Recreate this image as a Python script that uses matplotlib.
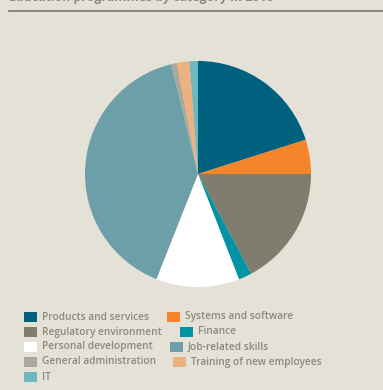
import matplotlib.pyplot as plt
from matplotlib.patches import Rectangle

# Education programmes, share by category (%)
categories = ["Products and services", "Systems and software",
              "Regulatory environment", "Finance",
              "Personal development", "Job-related skills",
              "General administration", "Training of new employees",
              "IT"]
shares = [20.1, 4.9, 17.2, 1.9, 11.9, 40.2, 0.8, 1.8, 1.2]
colors = ["#00617f", "#f5842a", "#7e7d6e", "#0094a6", "#ffffff",
          "#6d9fa9", "#a9a99b", "#edb07f", "#6db8c0"]
title = "Education programmes by category in 2010"

W, H = 383, 390
bg = "#e4e1d6"
txt = "#8a897e"

fig = plt.figure(figsize=(W / 100, H / 100), dpi=100)
fig.patch.set_facecolor(bg)

# title (mostly above the top edge) and rule
fig.text(9 / W, 1 - 0.5 / H, title, fontsize=8.9, fontweight="bold",
         color=txt, family="Open Sans", va="baseline", ha="left")
fig.add_artist(plt.Line2D([9 / W, 1], [1 - 10.5 / H, 1 - 10.5 / H],
                          color="#7e7d6e", lw=1.3))

# pie
cx, cy, r = 198, 174, 113
ax = fig.add_axes([(cx - r) / W, (H - cy - r) / H, 2 * r / W, 2 * r / H])
ax.pie(shares, colors=colors, startangle=90, counterclock=False,
       wedgeprops=dict(linewidth=0))
ax.set_xlim(-1, 1)
ax.set_ylim(-1, 1)
ax.set_aspect("equal")
ax.axis("off")

# legend, row by row; second entry of each row follows the first
right_x = [167, 180, 170, 173]
y0, dy = 317, 15
for i, (name, c) in enumerate(zip(categories, colors)):
    row, col = divmod(i, 2)
    x = 24 if col == 0 else right_x[row]
    y = y0 + row * dy
    fig.add_artist(Rectangle((x / W, 1 - (y + 5) / H), 13 / W, 10 / H,
                             transform=fig.transFigure, facecolor=c,
                             edgecolor="none"))
    fig.text((x + 18) / W, 1 - y / H, name, fontsize=7.3,
             fontweight="semibold", family="Open Sans", color=txt,
             va="center", ha="left")

fig.savefig("out.png", dpi=100, facecolor=bg)
